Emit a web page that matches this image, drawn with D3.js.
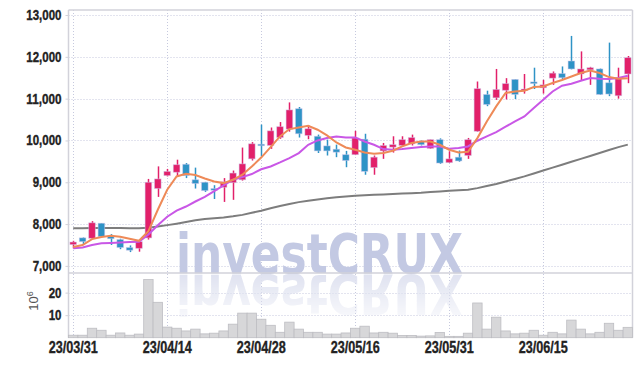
<!DOCTYPE html>
<html>
<head>
<meta charset="utf-8">
<script src="https://cdn.jsdelivr.net/npm/d3@7"></script>
<style>
  html, body { margin: 0; padding: 0; background: #fff; }
  svg { display: block; }
  .lbl { font-family: "Liberation Sans", Arial, sans-serif; font-weight: bold; fill: #222; stroke: #222; stroke-width: 0.35px; }
</style>
</head>
<body>
<svg id="chart" width="642" height="367"></svg>
<script>
// trading days
var dates = [
  "23/03/31","23/04/03","23/04/04","23/04/05","23/04/06","23/04/07","23/04/10","23/04/11","23/04/12","23/04/13",
  "23/04/14","23/04/17","23/04/18","23/04/19","23/04/20","23/04/21","23/04/24","23/04/25","23/04/26","23/04/27",
  "23/04/28","23/05/02","23/05/03","23/05/04","23/05/08","23/05/09","23/05/10","23/05/11","23/05/12","23/05/15",
  "23/05/16","23/05/17","23/05/18","23/05/19","23/05/22","23/05/23","23/05/24","23/05/25","23/05/26","23/05/30",
  "23/05/31","23/06/01","23/06/02","23/06/05","23/06/07","23/06/08","23/06/09","23/06/12","23/06/13","23/06/14",
  "23/06/15","23/06/16","23/06/19","23/06/20","23/06/21","23/06/22","23/06/23","23/06/26","23/06/27","23/06/28"
];
var tickLabels = ["23/03/31","23/04/14","23/04/28","23/05/16","23/05/31","23/06/15"];

var opens = [7510,7670,7660,8020,7710,7630,7440,7420,7670,8850,
  9160,9240,9430,9060,9000,8850,8880,8990,9060,9560,
  9910,9880,10070,10270,10760,10120,10100,9870,9790,9660,
  9660,10030,9350,9750,9840,9880,9920,9980,9810,10020,
  9470,9600,9640,10220,11100,11020,11200,11460,11200,11400,
  11260,11490,11600,11900,11590,11690,11710,11380,11070,11590];
var highs = [7600,7680,8070,8020,7760,7650,7490,7600,9080,9380,
  9320,9540,9460,9350,9010,8930,9100,9280,9830,9960,
  10380,10310,10440,10910,10800,10370,10140,10020,9900,9750,
  10230,10160,9640,9940,10100,10100,10140,10000,10020,10050,
  9740,9760,10060,11410,11190,11710,11490,11460,11590,11740,
  11450,11650,11770,12500,12130,11760,11720,12340,11740,12020];
var lows = [7420,7500,7650,7690,7500,7400,7330,7340,7630,8650,
  9140,9130,9100,8850,8770,8600,8530,8580,9040,9520,
  9620,9800,10040,10210,10070,10030,9700,9640,9600,9360,
  9650,9180,9180,9560,9710,9860,9880,9880,9800,9440,
  9460,9490,9560,10210,10820,10970,10980,10990,11120,11230,
  11120,11330,11470,11700,11440,11330,11090,11060,11000,11370];
var closes = [7570,7580,8030,7700,7650,7440,7375,7580,9000,9080,
  9260,9420,9160,8970,8800,8810,9010,9220,9440,9920,
  9890,10230,10330,10730,10160,10280,9750,9750,9720,9520,
  10060,9260,9600,9880,9900,10020,10070,9900,10020,9460,
  9560,9510,10020,11240,10860,11220,11360,11100,11230,11360,
  11330,11610,11500,11710,11710,11740,11100,11110,11490,11980];

// volume, millions of shares
var volumes = [1.1,1.1,4.2,3.3,1.1,2.1,1.1,1.6,25.8,15.7,
  4.7,4.2,3.0,3.8,1.7,2.0,3.0,6.0,10.9,10.9,
  8.2,5.5,2.4,6.9,3.8,2.4,2.4,1.6,1.6,2.1,
  4.2,5.1,2.1,2.4,2.0,1.0,1.0,0.7,0.8,2.3,
  0.6,0.6,2.0,15.4,3.8,9.1,3.0,1.7,2.0,3.3,
  1.1,2.4,1.7,7.8,3.8,1.7,2.4,6.4,3.3,4.6];

// moving averages
var ma5 = [7450,7500,7640,7690,7720,7697,7650,7600,7830,8342,
  8820,9139,9203,9172,9091,9020,8980,9060,9180,9378,
  9590,9840,10096,10272,10311,10350,10256,10120,9952,9833,
  9778,9713,9682,9698,9754,9857,9938,9976,9976,9897,
  9778,9713,9730,10056,10455,10814,11134,11172,11190,11277,
  11292,11374,11445,11530,11612,11674,11612,11516,11476,11490];
var ma20 = [7420,7440,7500,7540,7550,7560,7570,7580,7750,7970,
  8175,8320,8420,8540,8650,8790,8924,9060,9124,9196,
  9310,9378,9474,9579,9698,9897,10000,10057,10096,10072,
  10072,9976,9897,9794,9778,9794,9818,9842,9857,9857,
  9802,9818,9857,9993,10096,10200,10328,10455,10574,10775,
  10973,11172,11308,11356,11428,11492,11476,11468,11492,11548];
var ma60 = [7900,7900,7905,7905,7905,7905,7900,7900,7915,7940,
  7975,8010,8050,8090,8120,8140,8160,8185,8220,8270,
  8320,8380,8430,8480,8525,8560,8590,8620,8640,8660,
  8675,8690,8700,8710,8720,8730,8740,8750,8765,8780,
  8795,8808,8820,8860,8910,8960,9020,9080,9140,9210,
  9280,9350,9420,9490,9560,9630,9700,9770,9840,9900];

var priceTicks = [7000,8000,9000,10000,11000,12000,13000];
var volTicks = [10,20];

(function() {
  var svg = d3.select("#chart");
  var left = 68.5, right = 632.5, topY = 10, mid = 273, bottom = 337.7;
  var gridColor = "#c6c9de", frameColor = "#d2d2da";
  var upColor = "#e2206a", downColor = "#2e93c6";

  var x = d3.scaleBand().domain(dates).range([left, right]).padding(0);
  var y = d3.scaleLinear().domain([6830, 13120]).range([mid, topY]);
  var yv = d3.scaleLinear().domain([0, 28.7]).range([bottom, mid]);
  var cx = function(d) { return x(d) + x.bandwidth() / 2; };

  // grid
  var grid = svg.append("g");
  grid.selectAll("line.hp").data(priceTicks).enter().append("line")
    .attr("x1", left).attr("x2", right)
    .attr("y1", function(d) { return Math.round(y(d)) + 0.5; })
    .attr("y2", function(d) { return Math.round(y(d)) + 0.5; })
    .attr("stroke", gridColor).attr("stroke-dasharray", "1,2");
  grid.selectAll("line.hv").data(volTicks).enter().append("line")
    .attr("x1", left).attr("x2", right)
    .attr("y1", function(d) { return Math.round(yv(d)) + 0.5; })
    .attr("y2", function(d) { return Math.round(yv(d)) + 0.5; })
    .attr("stroke", gridColor).attr("stroke-dasharray", "1,2");
  grid.selectAll("line.v").data(tickLabels).enter().append("line")
    .attr("x1", function(d) { return Math.round(cx(d)) + 0.5; })
    .attr("x2", function(d) { return Math.round(cx(d)) + 0.5; })
    .attr("y1", topY).attr("y2", bottom)
    .attr("stroke", gridColor).attr("stroke-dasharray", "1,2");

  // watermark, with its mirrored reflection
  var defs = svg.append("defs");
  var grad = defs.append("linearGradient").attr("id", "fade").attr("x1", 0).attr("y1", 0).attr("x2", 0).attr("y2", 1);
  grad.append("stop").attr("offset", "0").attr("stop-color", "#fff").attr("stop-opacity", 1);
  grad.append("stop").attr("offset", "1").attr("stop-color", "#fff").attr("stop-opacity", 0.2);
  defs.append("mask").attr("id", "refl").append("rect")
    .attr("x", 0).attr("y", 274).attr("width", 642).attr("height", 45).attr("fill", "url(#fade)");
  defs.append("text").attr("id", "wmtext").attr("x", 176).attr("y", 0)
    .attr("textLength", 287).attr("lengthAdjust", "spacingAndGlyphs")
    .style("font-family", "DejaVu Sans, sans-serif").style("font-weight", "bold").style("font-size", "56px")
    .text("investCRUX");

  var wm = svg.append("g");
  wm.append("use").attr("href", "#wmtext").attr("transform", "translate(0,273)").attr("fill", "#c3c9e3");
  wm.append("g").attr("mask", "url(#refl)")
    .append("use").attr("href", "#wmtext").attr("transform", "translate(0,275) scale(1,-1)").attr("fill", "#dfe2f0");

  // frame
  var frame = svg.append("g").attr("stroke", frameColor).attr("stroke-width", 1.5);
  frame.append("line").attr("x1", left).attr("x2", right).attr("y1", topY).attr("y2", topY);
  frame.append("line").attr("x1", left).attr("x2", left).attr("y1", topY).attr("y2", bottom);
  frame.append("line").attr("x1", right).attr("x2", right).attr("y1", topY).attr("y2", bottom);
  frame.append("line").attr("x1", left).attr("x2", right).attr("y1", mid).attr("y2", mid);

  // volume bars
  svg.append("g").selectAll("rect").data(volumes).enter().append("rect")
    .attr("x", function(d, i) { return x(dates[i]); })
    .attr("width", x.bandwidth())
    .attr("y", function(d) { return yv(d); })
    .attr("height", function(d) { return bottom - yv(d); })
    .attr("fill", "#d7d7d9").attr("stroke", "#bdbdc2").attr("stroke-width", 0.8);

  // moving average lines
  var line = function(vals) {
    return d3.line().x(function(d, i) { return cx(dates[i]); }).y(function(d) { return y(d); })(vals);
  };
  svg.append("path").attr("d", line(ma60)).attr("fill", "none").attr("stroke", "#7d7d7d").attr("stroke-width", 2);

  // candles
  var idx = d3.range(dates.length);
  var bw = x.bandwidth() * 0.7;
  var candles = svg.append("g").selectAll("g").data(idx).enter().append("g");
  candles.append("line")
    .attr("x1", function(i) { return Math.round(cx(dates[i])) + 0.5; })
    .attr("x2", function(i) { return Math.round(cx(dates[i])) + 0.5; })
    .attr("y1", function(i) { return y(highs[i]); })
    .attr("y2", function(i) { return y(lows[i]); })
    .attr("stroke", function(i) { return closes[i] >= opens[i] ? upColor : downColor; })
    .attr("stroke-width", 1.5);
  candles.append("rect")
    .attr("x", function(i) { return cx(dates[i]) - bw / 2; })
    .attr("width", bw)
    .attr("y", function(i) { return y(Math.max(opens[i], closes[i])); })
    .attr("height", function(i) { return Math.max(1.5, Math.abs(y(opens[i]) - y(closes[i]))); })
    .attr("fill", function(i) { return closes[i] >= opens[i] ? upColor : downColor; })
    .attr("stroke", "rgba(205,195,235,0.6)").attr("stroke-width", 0.8);

  svg.append("path").attr("d", line(ma20)).attr("fill", "none").attr("stroke", "#c957e6").attr("stroke-width", 2);
  svg.append("path").attr("d", line(ma5)).attr("fill", "none").attr("stroke", "#ee8a58").attr("stroke-width", 2);

  // axes labels, squeezed to the narrow face of the original
  var squeeze = function(s, w) {
    var thin = s.length - s.replace(/[,\/]/g, "").length;
    return (s.length - thin) * w + thin * w * 0.5;
  };
  var yAxis = d3.axisLeft(y).tickValues(priceTicks).tickSize(3).tickPadding(4).tickFormat(d3.format(","));
  var ga = svg.append("g").attr("transform", "translate(" + left + ",0)").call(yAxis);
  var vAxis = d3.axisLeft(yv).tickValues(volTicks).tickSize(3).tickPadding(4);
  var gv = svg.append("g").attr("transform", "translate(" + left + ",0)").call(vAxis);
  var xAxis = d3.axisBottom(x).tickValues(tickLabels).tickSize(0).tickPadding(4);
  var gx = svg.append("g").attr("transform", "translate(0," + bottom + ")").call(xAxis);
  [ga, gv, gx].forEach(function(g) {
    g.select(".domain").remove();
    g.selectAll(".tick line").attr("stroke", frameColor);
    g.selectAll("text").attr("class", "lbl").style("font-size", "14px")
      .attr("textLength", function() { return squeeze(this.textContent, 6.4); })
      .attr("lengthAdjust", "spacingAndGlyphs");
  });
  gx.selectAll("text").style("font-size", "16px")
    .attr("textLength", function() { return squeeze(this.textContent, 7.0); });

  // unit label
  svg.append("text").attr("transform", "translate(38,301) rotate(-90)")
    .attr("text-anchor", "middle")
    .style("font-family", "Liberation Sans, sans-serif").style("font-size", "13px").attr("fill", "#555")
    .html("10<tspan dy='-5' font-size='9px'>6</tspan>");
})();
</script>
</body>
</html>
